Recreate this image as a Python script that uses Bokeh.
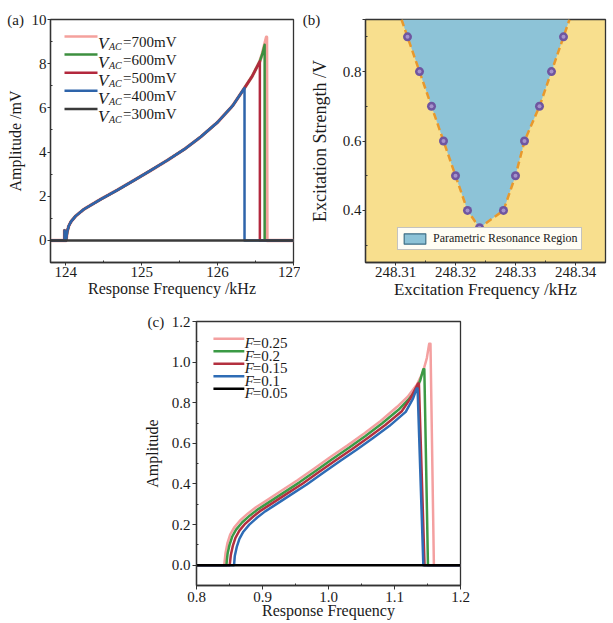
from bokeh.plotting import figure
from bokeh.models import FixedTicker, Label, Legend, LegendItem, Spacer
from bokeh.layouts import row, column
from bokeh.embed import file_html
from bokeh.resources import INLINE

FONT = "Liberation Serif"
TXT = "#1a1a1a"
AXC = "#333333"
NB = "\u00a0"

# ---------------- panel (a) data ----------------
a_names = ["700mV", "600mV", "500mV", "400mV", "300mV"]
a_colors = ["#f4a19c", "#3d8f3f", "#b3283d", "#2e64aa", "#3a3a3a"]
a_widths = [3.5, 2.5, 2.5, 2.5, 2.5]

a_backbone_freq = [123.80, 123.985, 123.985, 124.005, 124.02, 124.04, 124.07, 124.13, 124.24,
                   124.46, 124.68, 124.90, 125.12, 125.34, 125.56, 125.78, 126.00, 126.20, 126.355]
a_backbone_amp = [0.0, 0.0, 0.45, 0.0, 0.40, 0.65, 0.85, 1.10, 1.41,
                  1.86, 2.28, 2.72, 3.17, 3.63, 4.12, 4.69, 5.35, 6.10, 6.90]

v400_tail_freq = [126.355, 127.0]
v400_tail_amp = [0.0, 0.0]
v500_tail_freq = [126.456, 126.557, 126.557, 127.0]
v500_tail_amp = [7.43, 8.11, 0.0, 0.0]
v600_tail_freq = [126.456, 126.557, 126.59, 126.62, 126.62, 127.0]
v600_tail_amp = [7.43, 8.11, 8.45, 8.86, 0.0, 0.0]
v700_tail_freq = [126.456, 126.557, 126.59, 126.62, 126.645, 126.65, 127.0]
v700_tail_amp = [7.43, 8.11, 8.45, 8.86, 9.20, 0.0, 0.0]
v300_freq = [123.80, 127.0]
v300_amp = [0.0, 0.0]

a_xticks = [124, 125, 126, 127]
a_xlabels = ["124", "125", "126", "127"]
a_xminor = [124.5, 125.5, 126.5]
a_yticks = [0, 2, 4, 6, 8, 10]
a_ylabels = ["0", "2", "4", "6", "8", "(a)" + NB + NB + "10"]
a_yminor = [-1, 1, 3, 5, 7, 9]

# ---------------- panel (b) data ----------------
b_freq = [248.312, 248.314, 248.316, 248.318, 248.320, 248.322, 248.324,
          248.328, 248.330, 248.3315, 248.334, 248.336, 248.338]
b_volt = [0.90, 0.80, 0.70, 0.60, 0.50, 0.40, 0.35,
          0.40, 0.50, 0.60, 0.70, 0.80, 0.90]
b_edge_freq = [248.3110, 248.3390]   # boundary where it meets the top edge
b_edge_volt = [0.95, 0.95]

b_xticks = [248.31, 248.32, 248.33, 248.34]
b_xlabels = ["248.31", "248.32", "248.33", "248.34"]
b_xminor = [248.315, 248.325, 248.335]
b_yticks = [0.4, 0.6, 0.8, 0.95]
b_ylabels = ["0.4", "0.6", "0.8", "(b)" + NB * 11]
b_yminor = [0.3, 0.5, 0.7, 0.9]

# ---------------- panel (c) data ----------------
c_names = ["0.25", "0.2", "0.15", "0.1", "0.05"]
c_colors = ["#f4a0a0", "#3b9a45", "#b3303f", "#2e6cb5", "#000000"]

f025_x = [0.800, 0.842, 0.844, 0.847, 0.851, 0.857, 0.866, 0.878, 0.890, 0.903, 0.928, 0.953, 0.978,
          1.004, 1.029, 1.054, 1.079, 1.104, 1.120, 1.134, 1.143, 1.149, 1.1525, 1.1545, 1.1597, 1.200]
f025_y = [0.0, 0.0, 0.06, 0.11, 0.15, 0.185, 0.22, 0.255, 0.285, 0.312, 0.365, 0.418, 0.475,
          0.535, 0.590, 0.648, 0.710, 0.780, 0.830, 0.890, 0.950, 1.020, 1.090, 1.090, 0.0, 0.0]
f020_x = [0.800, 0.8453, 0.847, 0.850, 0.854, 0.860, 0.869, 0.881, 0.893, 0.906, 0.931, 0.956, 0.981,
          1.006, 1.031, 1.056, 1.081, 1.106, 1.121, 1.132, 1.139, 1.1436, 1.1452, 1.1507, 1.200]
f020_y = [0.0, 0.0, 0.055, 0.10, 0.14, 0.175, 0.21, 0.245, 0.275, 0.302, 0.355, 0.408, 0.465,
          0.523, 0.578, 0.636, 0.698, 0.765, 0.815, 0.860, 0.910, 0.965, 0.965, 0.0, 0.0]
f015_x = [0.800, 0.8503, 0.852, 0.855, 0.859, 0.865, 0.874, 0.886, 0.898, 0.911, 0.936, 0.961, 0.986,
          1.011, 1.036, 1.061, 1.086, 1.111, 1.124, 1.1356, 1.1370, 1.1455, 1.200]
f015_y = [0.0, 0.0, 0.05, 0.095, 0.135, 0.17, 0.205, 0.24, 0.27, 0.297, 0.35, 0.402, 0.46,
          0.517, 0.572, 0.630, 0.690, 0.758, 0.820, 0.895, 0.895, 0.0, 0.0]
f010_x = [0.800, 0.8569, 0.858, 0.861, 0.865, 0.871, 0.880, 0.892, 0.904, 0.917, 0.942, 0.967, 0.992,
          1.017, 1.042, 1.067, 1.092, 1.117, 1.128, 1.1336, 1.1350, 1.1437, 1.200]
f010_y = [0.0, 0.0, 0.045, 0.09, 0.13, 0.165, 0.20, 0.235, 0.265, 0.292, 0.345, 0.397, 0.455,
          0.512, 0.567, 0.625, 0.685, 0.755, 0.820, 0.870, 0.870, 0.0, 0.0]
f005_x = [0.800, 1.200]
f005_y = [0.0, 0.0]

c_xticks = [0.8, 0.9, 1.0, 1.1, 1.2]
c_xlabels = ["0.8", "0.9", "1.0", "1.1", "1.2"]
c_xminor = [0.85, 0.95, 1.05, 1.15]
c_yticks = [0.0, 0.2, 0.4, 0.6, 0.8, 1.0, 1.2]
c_ylabels = ["0.0", "0.2", "0.4", "0.6", "0.8", "1.0", "(c)" + NB + NB + "1.2"]
c_yminor = [-0.1, 0.1, 0.3, 0.5, 0.7, 0.9, 1.1]


def mapper(xr, yr, fl, fr, ft, fb):
    """page-pixel -> data converters for legend placement"""
    def fx(px):
        return xr[0] + (px - fl) * (xr[1] - xr[0]) / (fr - fl)

    def fy(py):
        return yr[1] - (py - ft) * (yr[1] - yr[0]) / (fb - ft)
    return fx, fy


def style(p, xt, xl, xm, yt, yl, ym, xlab, ylab, xlab_size, ylab_size,
          tick_out, lab_standoff, xlab_standoff, ylab_standoff):
    p.xaxis.ticker = FixedTicker(ticks=xt, minor_ticks=xm)
    p.xaxis.major_label_overrides = dict(zip(xt, xl))
    p.yaxis.ticker = FixedTicker(ticks=yt, minor_ticks=ym)
    p.yaxis.major_label_overrides = dict(zip(yt, yl))
    p.xaxis.axis_label = xlab
    p.yaxis.axis_label = ylab
    for ax in p.axis:
        ax.axis_line_color = AXC
        ax.axis_line_width = 1.3
        ax.major_tick_line_color = AXC
        ax.minor_tick_line_color = AXC
        ax.major_tick_out = tick_out
        ax.major_tick_in = 0
        ax.minor_tick_out = 0
        ax.minor_tick_in = 2
        ax.major_label_text_font = FONT
        ax.major_label_text_font_size = "15px"
        ax.major_label_text_color = TXT
        ax.major_label_standoff = lab_standoff
        ax.axis_label_text_font = FONT
        ax.axis_label_text_font_style = "normal"
        ax.axis_label_text_color = TXT
    p.xaxis.axis_label_text_font_size = xlab_size
    p.yaxis.axis_label_text_font_size = ylab_size
    p.xaxis.axis_label_standoff = xlab_standoff
    p.yaxis.axis_label_standoff = ylab_standoff
    p.xgrid.visible = False
    p.ygrid.visible = False
    p.outline_line_color = AXC
    p.outline_line_width = 1.3
    p.outline_line_alpha = 1.0


def lab(p, x, y, text, size, italic=False):
    p.add_layout(Label(x=x, y=y, text=text, text_font=FONT, text_font_size=size,
                       text_font_style="italic" if italic else "normal",
                       text_color=TXT, text_align="left", text_baseline="alphabetic"))


# ================= panel (a) =================
A_X, A_Y = (123.8, 127.0), (-1.0, 10.0)
pa = figure(width=300, height=303, x_range=A_X, y_range=A_Y, output_backend="svg",
            toolbar_location=None, min_border_left=50, min_border_right=7,
            min_border_top=18, min_border_bottom=41, background_fill_color="white")
style(pa, a_xticks, a_xlabels, a_xminor, a_yticks, a_ylabels, a_yminor,
      "Response Frequency /kHz", "Amplitude /mV", "16px", "16px", 3, 1, 0, -20)
ax_, ay_ = mapper(A_X, A_Y, 50, 293, 18, 262)

a_curves = [
    (a_backbone_freq + v700_tail_freq, a_backbone_amp + v700_tail_amp),
    (a_backbone_freq + v600_tail_freq, a_backbone_amp + v600_tail_amp),
    (a_backbone_freq + v500_tail_freq, a_backbone_amp + v500_tail_amp),
    (a_backbone_freq + v400_tail_freq, a_backbone_amp + v400_tail_amp),
    (v300_freq, v300_amp),
]
for (xs, ys), col, w in zip(a_curves, a_colors, a_widths):
    pa.line(xs, ys, line_color=col, line_width=w, line_join="round")

for i, (name, col) in enumerate(zip(a_names, a_colors)):
    cy = 35 + 18.2 * i
    pa.line([ax_(64), ax_(97)], [ay_(cy), ay_(cy)], line_color=col, line_width=2.5)
    lab(pa, ax_(97.5), ay_(cy + 7.5), "V", "17px", italic=True)
    lab(pa, ax_(108.5), ay_(cy + 10.5), "AC", "10px", italic=True)
    lab(pa, ax_(122.5), ay_(cy + 5.5), "=" + name, "15px")

# ================= panel (b) =================
B_X, B_Y = (248.305, 248.345), (0.25, 0.95)
pb = figure(width=312, height=303, x_range=B_X, y_range=B_Y, output_backend="svg",
            toolbar_location=None, min_border_left=65, min_border_right=7,
            min_border_top=19, min_border_bottom=41, background_fill_color="#f8df8e")
style(pb, b_xticks, b_xlabels, b_xminor, b_yticks, b_ylabels, b_yminor,
      "Excitation Frequency /kHz", "Excitation Strength /V", "17px", "18px", 3, 1, 0, -30)

bound_x = [b_edge_freq[0]] + b_freq + [b_edge_freq[1]]
bound_y = [b_edge_volt[0]] + b_volt + [b_edge_volt[1]]
pb.patch(bound_x, bound_y, fill_color="#8dc3d7", line_color=None)
pb.line(bound_x, bound_y, line_color="#e8982c", line_width=2.5, line_dash="7 4")
pb.scatter(b_freq, b_volt, size=9, fill_color="#6f55a0", line_color=None)
pb.scatter(b_freq, b_volt, size=4, fill_color="#a592cc", line_color=None)
nan = float("nan")
swatch = pb.quad(left=[nan], right=[nan], bottom=[nan], top=[nan],
                 fill_color="#8dc3d7", line_color="#3f6f86", line_width=1.2)
leg = Legend(items=[LegendItem(label="Parametric Resonance Region", renderers=[swatch])],
             location=(32, 12), padding=3, margin=0, spacing=0, glyph_width=27,
             glyph_height=13, label_standoff=5, label_text_font=FONT,
             label_text_font_size="12px", label_text_color=TXT, label_height=12,
             border_line_color="#8a8a8a", border_line_width=1,
             background_fill_color="#fffdf4", background_fill_alpha=1.0)
pb.add_layout(leg)

# ================= panel (c) =================
C_X, C_Y = (0.8, 1.2), (-0.1, 1.2)
pc = figure(width=335, height=319, x_range=C_X, y_range=C_Y, output_backend="svg",
            toolbar_location=None, min_border_left=55, min_border_right=15,
            min_border_top=18, min_border_bottom=37, background_fill_color="white")
style(pc, c_xticks, c_xlabels, c_xminor, c_yticks, c_ylabels, c_yminor,
      "Response Frequency", "Amplitude", "16px", "16px", 4, 2, -3, -16)
cx_, cy_ = mapper(C_X, C_Y, 195, 460, 321, 585)

c_curves = [(f025_x, f025_y), (f020_x, f020_y), (f015_x, f015_y), (f010_x, f010_y), (f005_x, f005_y)]
for (xs, ys), col in zip(c_curves, c_colors):
    pc.line(xs, ys, line_color=col, line_width=2.5, line_join="round")

for i, (name, col) in enumerate(zip(c_names, c_colors)):
    ry = 338.3 + 12.5 * i
    pc.line([cx_(212), cx_(243)], [cy_(ry), cy_(ry)], line_color=col, line_width=2.5)
    lab(pc, cx_(243.5), cy_(ry + 4.6), "F", "15px", italic=True)
    lab(pc, cx_(251.5), cy_(ry + 4.6), "=" + name, "15px")

layout = column(row(pa, pb), row(Spacer(width=140, height=319), pc))
open("out.html", "w").write(file_html(layout, INLINE))
